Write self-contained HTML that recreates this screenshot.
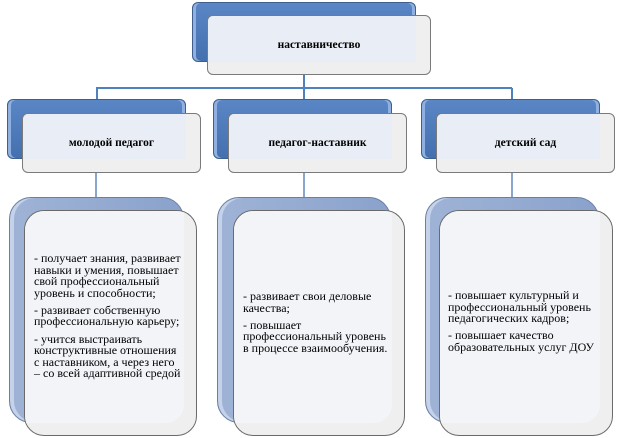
<!DOCTYPE html>
<html><head><meta charset="utf-8"><style>
body{margin:0;width:623px;height:438px;background:#fff;position:relative;overflow:hidden;font-family:"Liberation Serif",serif;color:#000}
.a{position:absolute;box-sizing:border-box}
.bk{background:linear-gradient(#5a86c6,#4470b0);border:1px solid #3f5f8f;border-radius:6px;box-shadow:inset 3px 0 0 #8fb0e0,inset -3px 0 0 #8fb0e0}
.fr{background:#efefef;border:1px solid #7a7a7a;border-radius:6px;overflow:hidden}
.ov{position:absolute;background:#e9eef6}
.bk3{background:linear-gradient(90deg,#9fb3d6,#8aa2cc);border:1px solid #6a7fa3;border-radius:22px;box-shadow:inset 4px 0 0 #c4d2ea}
.fr3{background:#efefef;border:1px solid #6a6a6a;border-radius:20px;overflow:hidden}
.ov3{position:absolute;background:#f3f4f8;border-radius:0 0 18px 0}
.ln{position:absolute;background:#4f81bd}
.t{position:absolute;font-weight:bold;font-size:11.5px;text-align:center;width:100%}
.tx{position:absolute;font-size:12px;line-height:11.6px;white-space:nowrap}
.tx p{margin:0 0 5.5px}
</style></head><body>
<div class="ln" style="left:96px;top:87px;width:416px;height:2px"></div>
<div class="ln" style="left:303px;top:74px;width:2px;height:25px"></div>
<div class="ln" style="left:96px;top:88px;width:2px;height:12px"></div>
<div class="ln" style="left:511px;top:88px;width:2px;height:12px"></div>
<div class="ln" style="left:95px;top:172px;width:2px;height:26px;background:#8aa6cf"></div>
<div class="ln" style="left:303px;top:172px;width:2px;height:26px;background:#8aa6cf"></div>
<div class="ln" style="left:511px;top:172px;width:2px;height:26px;background:#8aa6cf"></div>

<div class="a bk" style="left:192px;top:2px;width:224px;height:60px"></div>
<div class="a fr" style="left:207px;top:15px;width:224px;height:60px"><div class="ov" style="left:0;top:0;width:208px;height:46px"></div><div class="t" style="top:23px">наставничество</div></div>

<div class="a bk" style="left:7px;top:99px;width:179px;height:60px"></div>
<div class="a fr" style="left:22px;top:113px;width:179px;height:60px"><div class="ov" style="left:0;top:0;width:163px;height:45px"></div><div class="t" style="top:23px">молодой педагог</div></div>

<div class="a bk" style="left:213px;top:99px;width:179px;height:60px"></div>
<div class="a fr" style="left:228px;top:113px;width:179px;height:60px"><div class="ov" style="left:0;top:0;width:163px;height:45px"></div><div class="t" style="top:23px">педагог-наставник</div></div>

<div class="a bk" style="left:421px;top:99px;width:179px;height:60px"></div>
<div class="a fr" style="left:436px;top:113px;width:179px;height:60px"><div class="ov" style="left:0;top:0;width:163px;height:45px"></div><div class="t" style="top:23px">детский сад</div></div>

<div class="a bk3" style="left:9px;top:197px;width:175px;height:226px"></div>
<div class="a fr3" style="left:24px;top:210px;width:173px;height:226px"><div class="ov3" style="left:0;top:0;width:159px;height:212px"></div>
<div class="tx" style="left:9px;top:42px"><p>- получает знания, развивает<br>навыки и умения, повышает<br>свой профессиональный<br>уровень и способности;</p><p>- развивает собственную<br>профессиональную карьеру;</p><p>- учится выстраивать<br>конструктивные отношения<br>с наставником, а через него<br>– со всей адаптивной средой</p></div></div>

<div class="a bk3" style="left:217px;top:197px;width:174px;height:226px"></div>
<div class="a fr3" style="left:233px;top:210px;width:172px;height:226px"><div class="ov3" style="left:0;top:0;width:158px;height:212px"></div>
<div class="tx" style="left:9px;top:80px"><p>- развивает свои деловые<br>качества;</p><p>- повышает<br>профессиональный уровень<br>в процессе взаимообучения.</p></div></div>

<div class="a bk3" style="left:425px;top:197px;width:174px;height:226px"></div>
<div class="a fr3" style="left:439px;top:210px;width:174px;height:226px"><div class="ov3" style="left:0;top:0;width:160px;height:212px"></div>
<div class="tx" style="left:8px;top:79px"><p>- повышает культурный и<br>профессиональный уровень<br>педагогических кадров;</p><p>- повышает качество<br>образовательных услуг ДОУ</p></div></div>
</body></html>
